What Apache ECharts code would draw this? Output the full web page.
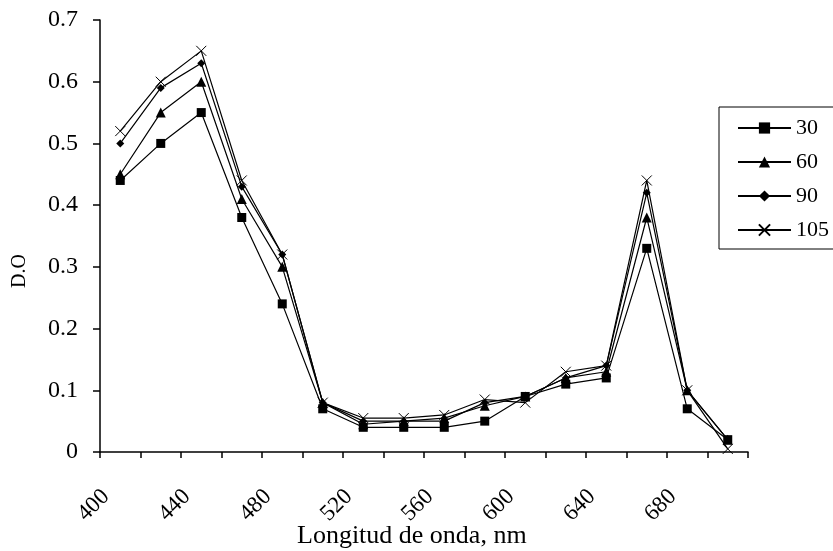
<!DOCTYPE html>
<html>
<head>
<meta charset="utf-8">
<script src="https://cdn.jsdelivr.net/npm/echarts@6/dist/echarts.min.js"></script>
<style>html,body{margin:0;padding:0;background:#fff;}#c{width:833px;height:551px;}</style>
</head>
<body>
<div id="c"></div>
<script>
const wavelengths = [410,430,450,470,490,510,530,550,570,590,610,630,650,670,690,710];
const s30  = [0.44,0.50,0.55,0.38,0.24,0.07,0.04,0.04,0.04,0.05,0.09,0.11,0.12,0.33,0.07,0.02];
const s60  = [0.45,0.55,0.60,0.41,0.30,0.08,0.045,0.05,0.055,0.075,0.09,0.12,0.13,0.38,0.10,0.02];
const s90  = [0.50,0.59,0.63,0.43,0.32,0.08,0.05,0.05,0.05,0.08,0.09,0.12,0.14,0.42,0.10,0.02];
const s105 = [0.52,0.60,0.65,0.44,0.32,0.08,0.055,0.055,0.06,0.085,0.08,0.13,0.14,0.44,0.10,0.005];
const seriesNames = ['30','60','90','105'];
const yTicks = [0,0.1,0.2,0.3,0.4,0.5,0.6,0.7];
const xTitle = 'Longitud de onda, nm';

const font = '"Liberation Serif", "Times New Roman", serif';
const pairs = arr => wavelengths.map((w,i)=>[w,arr[i]]);
const crossPath = 'path://M0,0L10,10M10,0L0,10';

const mk = (name, arr, symbol, size, cross) => ({
  name, type:'line', data:pairs(arr), symbol, symbolSize:size,
  lineStyle:{color:'#000', width:1.2},
  itemStyle: cross ? {color:'rgba(0,0,0,0)', borderColor:'#000', borderWidth:1}
                   : {color:'#000', borderWidth:0},
  emphasis:{disabled:true}, animation:false
});

const chart = echarts.init(document.getElementById('c'));
chart.setOption({
  backgroundColor:'#fff',
  animation:false,
  title:{
    text:xTitle, left:297, top:523, padding:0,
    textStyle:{fontFamily:font, fontSize:26, fontWeight:'normal', color:'#000', lineHeight:26}
  },
  grid:{left:100, right:85, top:20, bottom:99, containLabel:false, outerBoundsMode:'none'},
  xAxis:{
    type:'value', min:400, max:720, interval:20,
    axisLine:{lineStyle:{color:'#000', width:1.5}},
    axisTick:{length:6, lineStyle:{color:'#000', width:1.5}},
    splitLine:{show:false},
    axisLabel:{rotate:45, margin:47, align:'center', verticalAlign:'middle',
      padding:[0,18,0,0],
      fontFamily:font, fontSize:23, color:'#000',
      formatter: v => (v % 40 === 0 && v <= 680) ? String(v) : ''}
  },
  yAxis:{
    type:'value', min:yTicks[0], max:yTicks[yTicks.length-1], interval:0.1,
    name:'D.O', nameLocation:'middle', nameGap:70, nameRotate:90,
    nameTextStyle:{fontFamily:font, fontSize:20, color:'#000', padding:[0,70,0,0]},
    axisLine:{show:true, lineStyle:{color:'#000', width:1.5}},
    axisTick:{show:true, length:7, lineStyle:{color:'#000', width:1.5}},
    splitLine:{show:false},
    axisLabel:{margin:22, fontFamily:font, fontSize:24, color:'#000',
      formatter: v => String(Math.round(v*10)/10)}
  },
  legend:{
    orient:'vertical', left:719, top:107,
    itemWidth:53, itemHeight:14, itemGap:12,
    padding:[10,50,8,18],
    borderColor:'#000', borderWidth:1,
    textStyle:{fontFamily:font, fontSize:22, color:'#000', lineHeight:22},
    data:seriesNames
  },
  series:[
    mk(seriesNames[0], s30, 'rect', 9, false),
    mk(seriesNames[1], s60, 'triangle', 10, false),
    mk(seriesNames[2], s90, 'diamond', 8, false),
    mk(seriesNames[3], s105, crossPath, 10, true)
  ]
});
</script>
</body>
</html>
